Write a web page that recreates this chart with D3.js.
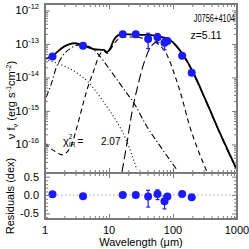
<!DOCTYPE html>
<html>
<head>
<meta charset="utf-8">
<script src="https://cdn.jsdelivr.net/npm/d3@7"></script>
<style>
  body { margin: 0; background: #fff; }
  text { font-family: "Liberation Sans", Arial, Helvetica, sans-serif; fill: #000; }
</style>
</head>
<body>
<div id="chart"></div>
<script>
'use strict';

// observed photometry (rest-frame wavelength, micron)
const obsLam  = [1.31, 3.93, 16.4, 26.2, 40.9, 57.3, 73.6, 81.8, 139, 196];
const obsFlux = [4.2e-14, 8.9e-14, 1.95e-13, 1.95e-13, 1.41e-13, 1.58e-13, 1.09e-13, 1.23e-13, 4.47e-14, 1.39e-14];
const obsErr  = [1e-15, 2e-15, 4e-15, 1.2e-14, 6.8e-14, 4.7e-14, 4.1e-14, 1.2e-14, 2e-15, 7e-16];
const residual = [0.02, -0.03, 0.0, 0.0, -0.04, 0.03, -0.17, -0.04, 0.03, -0.06];

// model components
const totalLam  = [1, 1.29, 1.98, 2.84, 3.79, 5.82, 8.35, 9.3, 10.4, 11.9, 15.9, 26.4, 40.7, 56, 89.9, 138, 198, 339, 541, 1000];
const totalFlux = [3.56e-14, 4.39e-14, 8.3e-14, 1.05e-13, 9.33e-14, 6.95e-14, 6.62e-14, 5.7e-14, 7.2e-14, 1.32e-13,
                   1.99e-13, 1.86e-13, 1.86e-13, 1.73e-13, 1.32e-13, 5.38e-14, 1.67e-14, 1.73e-15, 2.2e-16, 1.73e-17];

const diskLam  = [1, 1.286, 1.98, 3.16, 5.05, 7.23, 9.29, 13.3, 19.1, 27.3];
const diskFlux = [3.56e-14, 3.01e-14, 2.2e-14, 1.36e-14, 6.4e-15, 2.62e-15, 1.32e-15, 4.7e-16, 1.19e-16, 1.73e-17];

const hotLam  = [1.04, 1.24, 1.49, 1.84, 2.55, 3.52, 4.7, 6.49, 10.4, 16.5, 25.5, 37.8, 62.6, 115.5];
const hotFlux = [2.62e-15, 5.97e-15, 1.92e-14, 4.09e-14, 7.6e-14, 9.33e-14, 8.71e-14, 5.38e-14, 1.67e-14, 4.86e-15,
                 1.51e-15, 3.82e-16, 9.02e-17, 1.73e-17];

const torusLam  = [1, 1.197, 1.486, 1.843, 2.288, 2.64, 3.162, 3.785, 4.53, 5.83, 6.98, 8.35, 9.3, 10.37, 12.86,
                   17.15, 25.5, 40.7, 58.3, 80.6, 103.7, 138.2, 177.8, 245.9, 339.8];
const torusFlux = [1.11e-16, 7.87e-17, 5.97e-17, 4.86e-17, 6.4e-17, 1.04e-16, 3.33e-16, 1.23e-15, 4.24e-15, 1.67e-14,
                   4.39e-14, 6.2e-14, 5.2e-14, 6.6e-14, 1.2e-13, 1.62e-13, 1.62e-13, 1.32e-13, 1e-13, 4.7e-14,
                   1.36e-14, 2.44e-15, 4.09e-16, 6.85e-17, 1.51e-17];

const coldLam  = [15.97, 19.1, 22.9, 28.4, 35.2, 43.7, 54.2, 69.8, 89.8, 138.2, 198, 339.8, 542, 1000];
const coldFlux = [1.51e-17, 1.11e-16, 9.33e-16, 5.97e-15, 2.71e-14, 7.6e-14, 1.15e-13, 1.41e-13, 1.23e-13, 5.02e-14,
                  1.56e-14, 1.62e-15, 2.06e-16, 1.62e-17];

const xTickLabels = ['1', '10', '100', '1000'];
const yTickExps = [-12, -13, -14, -15, -16];
const residTicks = [0.5, 0.0, -0.5];

const name = 'J0756+4104';
const redshift = 'z=5.11';
const chi2 = '2.07';

function makeSedChart(containerSelector) {
  const width = 249;
  const height = 249;
  const left = 45, right = 237, top = 4, mid = 173, bottom = 219;
  const axisColour = '#7a7a7a';
  const dotColour = '#1a1aff';

  const svg = d3.select(containerSelector)
    .append('svg')
    .attr('width', width)
    .attr('height', height);

  const x = d3.scaleLog().domain([1, 1000]).range([left, right]);
  const y = d3.scaleLog().domain([1.4e-17, 1.56e-12]).range([mid, top]);
  const yr = d3.scaleLinear().domain([-0.65, 0.6]).range([bottom, mid]);

  svg.append('clipPath').attr('id', 'clipMain')
    .append('rect')
    .attr('x', left).attr('y', top)
    .attr('width', right - left).attr('height', mid - top);

  // model curves
  const line = d3.line()
    .x(function(d) { return x(d[0]); })
    .y(function(d) { return y(d[1]); })
    .curve(d3.curveMonotoneX);

  const models = [
    { lam: diskLam,  flux: diskFlux,  dash: '1,2.5', w: 1.1 },
    { lam: hotLam,   flux: hotFlux,   dash: '6,2.5,1.2,2.5', w: 1.1 },
    { lam: torusLam, flux: torusFlux, dash: '5,3.5', w: 1.1 },
    { lam: coldLam,  flux: coldFlux,  dash: '9,4', w: 1.1 },
    { lam: totalLam, flux: totalFlux, dash: null, w: 1.8 }
  ];

  const curves = svg.append('g').attr('clip-path', 'url(#clipMain)');
  models.forEach(function(m) {
    curves.append('path')
      .datum(m.lam.map(function(l, i) { return [l, m.flux[i]]; }))
      .attr('d', line)
      .attr('fill', 'none')
      .attr('stroke', '#000')
      .attr('stroke-width', m.w)
      .attr('stroke-dasharray', m.dash);
  });

  // residual zero line
  svg.append('line')
    .attr('x1', left).attr('x2', right)
    .attr('y1', yr(0)).attr('y2', yr(0))
    .attr('stroke', '#aaa')
    .attr('stroke-width', 1)
    .attr('stroke-dasharray', '1.5,2.5');

  const obs = obsLam.map(function(l, i) {
    return { lam: l, f: obsFlux[i], e: obsErr[i], r: residual[i] };
  });

  // error bars, main panel
  const errMain = svg.append('g').attr('stroke', dotColour).attr('stroke-width', 1.2);
  obs.forEach(function(d) {
    const lo = y(Math.max(d.f - d.e, 1e-18));
    const hi = y(d.f + d.e);
    errMain.append('line').attr('x1', x(d.lam)).attr('x2', x(d.lam)).attr('y1', lo).attr('y2', hi);
    errMain.append('line').attr('x1', x(d.lam) - 2).attr('x2', x(d.lam) + 2).attr('y1', lo).attr('y2', lo);
    errMain.append('line').attr('x1', x(d.lam) - 2).attr('x2', x(d.lam) + 2).attr('y1', hi).attr('y2', hi);
  });

  svg.append('g').selectAll('circle')
    .data(obs)
    .enter().append('circle')
    .attr('cx', function(d) { return x(d.lam); })
    .attr('cy', function(d) { return y(d.f); })
    .attr('r', 4)
    .attr('fill', dotColour);

  // residual panel
  const errRes = svg.append('g').attr('stroke', dotColour).attr('stroke-width', 1.2);
  obs.forEach(function(d) {
    const s = d.e / d.f;
    const hi = yr(d.r + Math.log10(1 + s));
    const lo = yr(d.r + Math.log10(1 - s));
    errRes.append('line').attr('x1', x(d.lam)).attr('x2', x(d.lam)).attr('y1', lo).attr('y2', hi);
    errRes.append('line').attr('x1', x(d.lam) - 2).attr('x2', x(d.lam) + 2).attr('y1', lo).attr('y2', lo);
    errRes.append('line').attr('x1', x(d.lam) - 2).attr('x2', x(d.lam) + 2).attr('y1', hi).attr('y2', hi);
  });

  svg.append('g').selectAll('circle')
    .data(obs)
    .enter().append('circle')
    .attr('cx', function(d) { return x(d.lam); })
    .attr('cy', function(d) { return yr(d.r); })
    .attr('r', 4)
    .attr('fill', dotColour);

  // ticks
  const xMajor = [1, 10, 100, 1000];
  const xMinor = [];
  [1, 10, 100].forEach(function(dec) {
    for (let k = 2; k <= 9; k++) xMinor.push(k * dec);
  });
  const yMajor = [1e-16, 1e-15, 1e-14, 1e-13, 1e-12];
  const yMinor = [];
  [1e-17, 1e-16, 1e-15, 1e-14, 1e-13].forEach(function(dec) {
    for (let k = 2; k <= 9; k++) yMinor.push(k * dec);
  });
  const rMajor = [-0.5, 0, 0.5];
  const rMinor = [-0.6, -0.4, -0.3, -0.2, -0.1, 0.1, 0.2, 0.3, 0.4, 0.6];

  function tickGroup(axis, tx, ty) {
    const g = svg.append('g')
      .attr('transform', 'translate(' + tx + ',' + ty + ')')
      .call(axis.tickFormat(''));
    g.select('.domain').remove();
    g.selectAll('line').attr('stroke', axisColour).attr('stroke-width', 1);
    g.selectAll('text').remove();
    return g;
  }

  [[xMajor, 5], [xMinor, 3]].forEach(function(t) {
    tickGroup(d3.axisBottom(x).tickValues(t[0]).tickSize(-t[1]), 0, mid);
    tickGroup(d3.axisTop(x).tickValues(t[0]).tickSize(-t[1]), 0, top);
    tickGroup(d3.axisBottom(x).tickValues(t[0]).tickSize(-t[1]), 0, bottom);
    tickGroup(d3.axisTop(x).tickValues(t[0]).tickSize(-t[1]), 0, mid);
  });
  [[yMajor, 5], [yMinor, 3]].forEach(function(t) {
    tickGroup(d3.axisLeft(y).tickValues(t[0]).tickSize(-t[1]), left, 0);
    tickGroup(d3.axisRight(y).tickValues(t[0]).tickSize(-t[1]), right, 0);
  });
  [[rMajor, 5], [rMinor, 3]].forEach(function(t) {
    tickGroup(d3.axisLeft(yr).tickValues(t[0]).tickSize(-t[1]), left, 0);
    tickGroup(d3.axisRight(yr).tickValues(t[0]).tickSize(-t[1]), right, 0);
  });

  // frames
  [[top, mid], [mid, bottom]].forEach(function(p) {
    svg.append('rect')
      .attr('x', left).attr('y', p[0])
      .attr('width', right - left).attr('height', p[1] - p[0])
      .attr('fill', 'none')
      .attr('stroke', axisColour)
      .attr('stroke-width', 2);
  });

  // tick labels
  svg.append('g').selectAll('text')
    .data(xTickLabels)
    .enter().append('text')
    .attr('x', function(d) { return x(+d); })
    .attr('y', 234)
    .attr('text-anchor', 'middle')
    .style('font-size', '11px')
    .text(function(d) { return d; });

  const yl = svg.append('g').selectAll('text')
    .data(yTickExps)
    .enter().append('text')
    .attr('x', 39)
    .attr('y', function(d) { return y(Math.pow(10, d)) + 4; })
    .attr('text-anchor', 'end')
    .style('font-size', '11.5px');
  yl.append('tspan').text('10');
  yl.append('tspan')
    .attr('dy', -5)
    .style('font-size', '7.5px')
    .text(function(d) { return '-' + Math.abs(d); });

  svg.append('g').selectAll('text')
    .data(residTicks)
    .enter().append('text')
    .attr('x', 39)
    .attr('y', function(d) { return yr(d) + 4; })
    .attr('text-anchor', 'end')
    .style('font-size', '11px')
    .text(function(d) { return d3.format('.1f')(d).replace('−', '-'); });

  // axis titles
  svg.append('text')
    .attr('x', (left + right) / 2)
    .attr('y', 246)
    .attr('text-anchor', 'middle')
    .style('font-size', '11px')
    .text('Wavelength (\u03bcm)');

  const yt = svg.append('text')
    .attr('transform', 'translate(15,100) rotate(-90)')
    .attr('text-anchor', 'middle')
    .style('font-size', '11px');
  yt.append('tspan').text('\u03bd f');
  yt.append('tspan').attr('dy', 2.5).style('font-size', '7.5px').text('\u03bd');
  yt.append('tspan').attr('dy', -2.5).text(' (erg s');
  yt.append('tspan').attr('dy', -4).style('font-size', '7.5px').text('-1');
  yt.append('tspan').attr('dy', 4).text('cm');
  yt.append('tspan').attr('dy', -4).style('font-size', '7.5px').text('-2');
  yt.append('tspan').attr('dy', 4).text(')');

  svg.append('text')
    .attr('transform', 'translate(14,196) rotate(-90)')
    .attr('text-anchor', 'middle')
    .style('font-size', '11px')
    .text('Residuals (dex)');

  // annotations
  svg.append('text')
    .attr('transform', 'translate(235,22) scale(0.68,1)')
    .attr('text-anchor', 'end')
    .style('font-size', '11px')
    .text(name);

  svg.append('text')
    .attr('x', 206)
    .attr('y', 39)
    .attr('text-anchor', 'middle')
    .style('font-size', '10.5px')
    .text(redshift);

  const chi = svg.append('text')
    .attr('x', 63)
    .attr('y', 145)
    .style('font-size', '11px');
  chi.append('tspan').text('\u03c7');
  chi.append('tspan').attr('dy', -6).style('font-size', '6.5px').text('2');
  chi.append('tspan').attr('dy', 8).attr('dx', -3.5).style('font-size', '6.5px').text('IR');
  chi.append('tspan').attr('dy', -2).attr('dx', 2).style('font-size', '10px').text('=');
  svg.append('text')
    .attr('x', 101)
    .attr('y', 145)
    .style('font-size', '10px')
    .text(chi2);
}

makeSedChart('#chart');
</script>
</body>
</html>
